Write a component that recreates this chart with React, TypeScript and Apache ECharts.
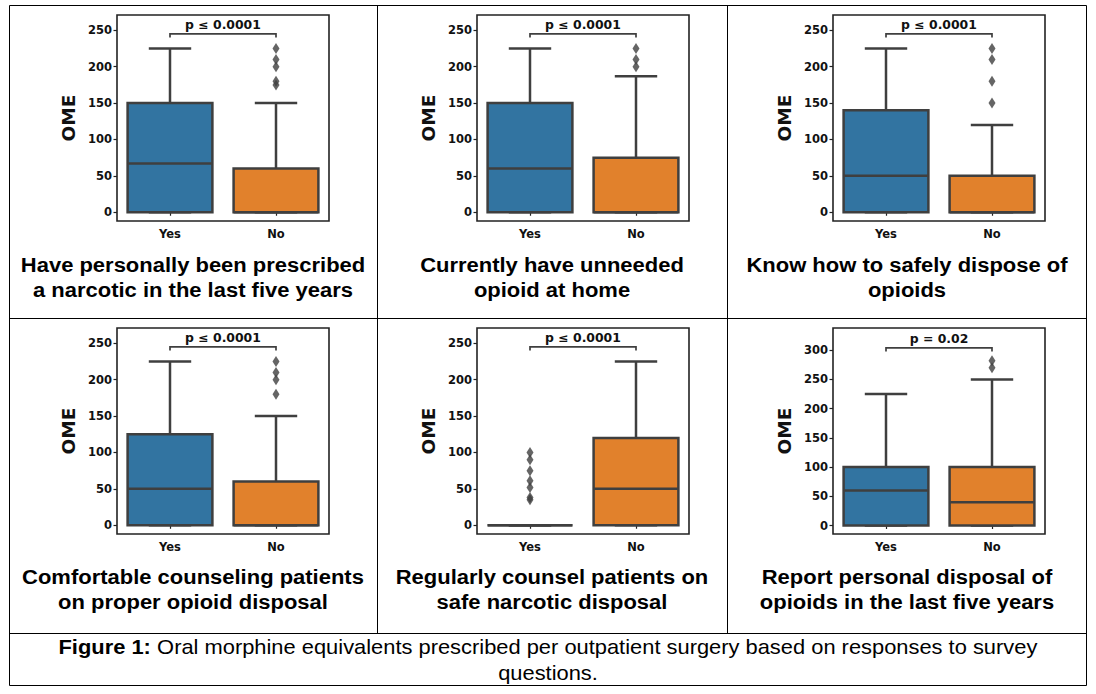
import React, { useEffect, useRef } from "react";
import * as echarts from "echarts";

const categories = ["Yes", "No"];

const panelTitles: string[][] = [
  ["Have personally been prescribed", "a narcotic in the last five years"],
  ["Currently have unneeded", "opioid at home"],
  ["Know how to safely dispose of", "opioids"],
  ["Comfortable counseling patients", "on proper opioid disposal"],
  ["Regularly counsel patients on", "safe narcotic disposal"],
  ["Report personal disposal of", "opioids in the last five years"],
];

// [min, Q1, median, Q3, max]
const yesStats: number[][] = [
  [0, 0, 67, 150, 225],
  [0, 0, 60, 150, 225],
  [0, 0, 50, 140, 225],
  [0, 0, 50, 125, 225],
  [0, 0, 0, 0, 0],
  [0, 0, 60, 100, 225],
];
const noStats: number[][] = [
  [0, 0, 0, 60, 150],
  [0, 0, 0, 75, 187],
  [0, 0, 0, 50, 120],
  [0, 0, 0, 60, 150],
  [0, 0, 50, 120, 225],
  [0, 0, 40, 100, 250],
];
const yesOutliers: number[][] = [[], [], [], [], [35, 38, 52, 61, 75, 90, 100], []];
const noOutliers: number[][] = [
  [175, 180, 200, 210, 225],
  [200, 210, 225],
  [150, 180, 210, 225],
  [180, 200, 210, 225],
  [],
  [270, 282],
];

const pLabels = ["p ≤ 0.0001", "p ≤ 0.0001", "p ≤ 0.0001", "p ≤ 0.0001", "p ≤ 0.0001", "p = 0.02"];
const bracketTop = [245, 245, 245, 245, 245, 304];
const bracketEnd = [240, 240, 240, 240, 240, 298];

const yMin = [-12, -12, -12, -12, -12, -14.5];
const yMax = [271, 271, 271, 271, 271, 338];
const yTicksA = [0, 50, 100, 150, 200, 250];
const yTicksB = [0, 50, 100, 150, 200, 250, 300];
const yTicks = [yTicksA, yTicksA, yTicksA, yTicksA, yTicksA, yTicksB];

const captionBold = "Figure 1:";
const captionLine1 = " Oral morphine equivalents prescribed per outpatient surgery based on responses to survey";
const captionLine2 = "questions.";

const boxColors = ["#3274a1", "#e1812c"];
const edge = "#3f3f3f";
const tickFont = '"DejaVu Sans", sans-serif';
const titleFont = '"Liberation Sans", Arial, sans-serif';

const gridLefts = [117, 477, 833];
const gridTops = [15, 328];
const gridW = 212;
const gridH = 206;
const cellCenters = [193, 552, 907];

export default function App() {
  const ref = useRef<HTMLDivElement>(null);

  useEffect(() => {
    if (!ref.current) return;
    const chart = echarts.init(ref.current, null, { renderer: "svg" });

    const grids: any[] = [];
    const xAxes: any[] = [];
    const yAxes: any[] = [];
    const series: any[] = [];
    const graphics: any[] = [];

    for (let i = 0; i < 6; i++) {
      const col = i % 3;
      const row = Math.floor(i / 3);
      const left = gridLefts[col];
      const top = gridTops[row];
      grids.push({
        left,
        top,
        width: gridW,
        height: gridH,
        show: true,
        borderColor: "#222",
        borderWidth: 1.6,
        backgroundColor: "#fff",
        containLabel: false,
      });
      xAxes.push({
        gridIndex: i,
        type: "category",
        data: categories,
        boundaryGap: true,
        axisLine: { show: false },
        axisTick: { show: true, alignWithLabel: true, length: 3.5, lineStyle: { color: "#222", width: 1.2 } },
        axisLabel: { fontFamily: tickFont, fontWeight: "bold", fontSize: 11.5, color: "#111", margin: 7 },
        splitLine: { show: false },
      });
      yAxes.push({
        gridIndex: i,
        type: "value",
        min: yMin[i],
        max: yMax[i],
        splitLine: { show: false },
        axisLine: { show: false },
        axisTick: { show: true, length: 3.5, lineStyle: { color: "#222", width: 1.2 }, customValues: yTicks[i] },
        axisLabel: {
          customValues: yTicks[i],
          fontFamily: tickFont,
          fontWeight: "bold",
          fontSize: 11.5,
          color: "#111",
          margin: 5,
        },
      });

      const boxData = [
        [0, ...yesStats[i]],
        [1, ...noStats[i]],
      ];
      series.push({
        type: "custom",
        xAxisIndex: i,
        yAxisIndex: i,
        data: boxData,
        encode: { x: 0, y: [1, 2, 3, 4, 5] },
        renderItem: (params: any, api: any) => {
          const ci = api.value(0);
          const bw = api.size([1, 0])[0] * 0.8;
          const cx = api.coord([ci, 0])[0];
          const yy = (v: number) => api.coord([ci, v])[1];
          const vMin = api.value(1);
          const q1 = api.value(2);
          const med = api.value(3);
          const q3 = api.value(4);
          const vMax = api.value(5);
          const capW = bw * 0.5;
          const ls = { stroke: edge, lineWidth: 2.5 };
          return {
            type: "group",
            children: [
              { type: "line", shape: { x1: cx, y1: yy(q3), x2: cx, y2: yy(vMax) }, style: ls },
              { type: "line", shape: { x1: cx, y1: yy(vMin), x2: cx, y2: yy(q1) }, style: ls },
              { type: "line", shape: { x1: cx - capW / 2, y1: yy(vMax), x2: cx + capW / 2, y2: yy(vMax) }, style: ls },
              { type: "line", shape: { x1: cx - capW / 2, y1: yy(vMin), x2: cx + capW / 2, y2: yy(vMin) }, style: ls },
              {
                type: "rect",
                shape: { x: cx - bw / 2, y: yy(q3), width: bw, height: yy(q1) - yy(q3) },
                style: { fill: boxColors[ci], stroke: edge, lineWidth: 2.5 },
              },
              { type: "line", shape: { x1: cx - bw / 2, y1: yy(med), x2: cx + bw / 2, y2: yy(med) }, style: ls },
            ],
          };
        },
        z: 2,
      });

      const outData: number[][] = [];
      yesOutliers[i].forEach((v) => outData.push([0, v]));
      noOutliers[i].forEach((v) => outData.push([1, v]));
      series.push({
        type: "scatter",
        xAxisIndex: i,
        yAxisIndex: i,
        data: outData,
        symbol: "diamond",
        symbolSize: [7, 11],
        itemStyle: { color: edge },
        z: 3,
      });

      const label = pLabels[i];
      series.push({
        type: "custom",
        xAxisIndex: i,
        yAxisIndex: i,
        data: [[0, bracketTop[i], bracketEnd[i]]],
        encode: { x: 0, y: [1, 2] },
        renderItem: (params: any, api: any) => {
          const topV = api.value(1);
          const endV = api.value(2);
          const p0 = api.coord([0, topV]);
          const p1 = api.coord([1, topV]);
          const yEnd = api.coord([0, endV])[1];
          return {
            type: "group",
            children: [
              {
                type: "polyline",
                shape: { points: [[p0[0], yEnd], [p0[0], p0[1]], [p1[0], p1[1]], [p1[0], yEnd]] },
                style: { stroke: edge, lineWidth: 1.7, fill: "none" },
              },
              {
                type: "text",
                x: (p0[0] + p1[0]) / 2,
                y: p0[1] - 2.5,
                scaleX: 1.08,
                style: {
                  text: label,
                  fontFamily: tickFont,
                  fontWeight: "bold",
                  fontSize: 11.5,
                  fill: "#111",
                  align: "center",
                  verticalAlign: "bottom",
                },
              },
            ],
          };
        },
        z: 4,
      });

      // OME axis title
      graphics.push({
        type: "text",
        x: left - 49,
        y: top + gridH / 2,
        rotation: Math.PI / 2,
        style: {
          text: "OME",
          fontFamily: tickFont,
          fontWeight: "bold",
          fontSize: 18.5,
          fill: "#111",
          align: "center",
          verticalAlign: "middle",
        },
      });

      // Panel titles
      const baseY = row === 0 ? 265 : 577.5;
      panelTitles[i].forEach((line, k) => {
        graphics.push({
          type: "text",
          x: cellCenters[col],
          y: baseY + k * 25,
          scaleX: 1.047,
          style: {
            text: line,
            fontFamily: titleFont,
            fontWeight: "bold",
            fontSize: 21,
            fill: "#000",
            align: "center",
            verticalAlign: "middle",
          },
        });
      });
    }

    // Table borders
    const lineStyle = { stroke: "#000", lineWidth: 1 };
    graphics.push(
      { type: "rect", shape: { x: 9.5, y: 5.5, width: 1077, height: 680 }, style: { fill: "none", stroke: "#000", lineWidth: 1 } },
      { type: "line", shape: { x1: 377.5, y1: 5.5, x2: 377.5, y2: 633.5 }, style: lineStyle },
      { type: "line", shape: { x1: 727.5, y1: 5.5, x2: 727.5, y2: 633.5 }, style: lineStyle },
      { type: "line", shape: { x1: 9.5, y1: 318.5, x2: 1086.5, y2: 318.5 }, style: lineStyle },
      { type: "line", shape: { x1: 9.5, y1: 633.5, x2: 1086.5, y2: 633.5 }, style: lineStyle }
    );

    // Caption
    graphics.push(
      {
        type: "text",
        x: 548,
        y: 647,
        scaleX: 1.094,
        style: {
          text: `{b|${captionBold}}{r|${captionLine1}}`,
          rich: {
            b: { fontFamily: titleFont, fontWeight: "bold", fontSize: 20, fill: "#000" },
            r: { fontFamily: titleFont, fontWeight: "normal", fontSize: 20, fill: "#000" },
          },
          fontFamily: titleFont,
          fontSize: 20,
          align: "center",
          verticalAlign: "middle",
        },
      },
      {
        type: "text",
        x: 548,
        y: 673,
        scaleX: 1.094,
        style: {
          text: captionLine2,
          fontFamily: titleFont,
          fontSize: 20,
          fill: "#000",
          align: "center",
          verticalAlign: "middle",
        },
      }
    );

    chart.setOption({
      animation: false,
      backgroundColor: "#fff",
      grid: grids,
      xAxis: xAxes,
      yAxis: yAxes,
      series,
      graphic: { elements: graphics },
    });

    return () => chart.dispose();
  }, []);

  return (
    <div
      ref={ref}
      style={{ position: "absolute", left: 0, top: 0, width: 1096, height: 694, background: "#fff" }}
    />
  );
}
